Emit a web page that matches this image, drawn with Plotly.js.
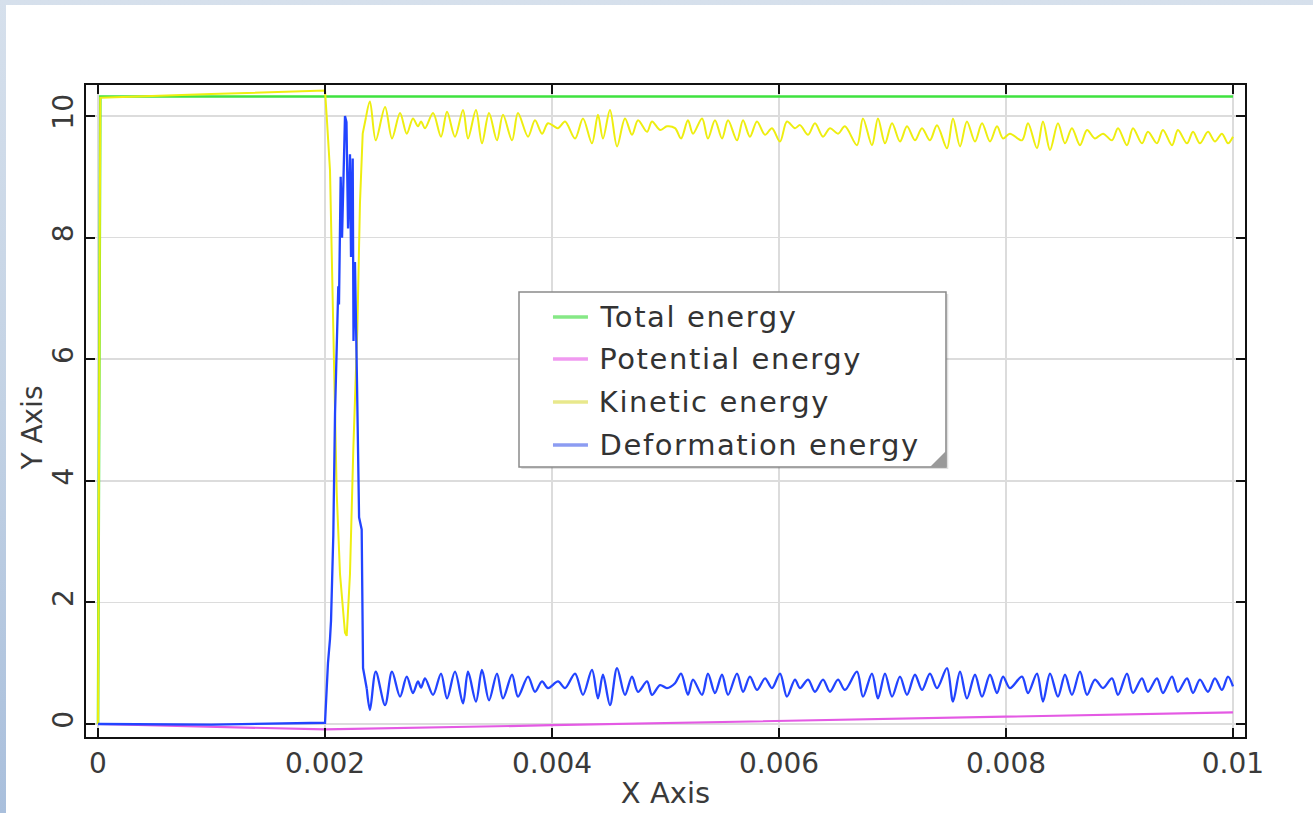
<!DOCTYPE html>
<html>
<head>
<meta charset="utf-8">
<script src="https://cdn.plot.ly/plotly-3.0.1.min.js"></script>
<style>
  html, body { margin: 0; padding: 0; width: 1313px; height: 813px; overflow: hidden;
    background: linear-gradient(to bottom, #d6e0ec 0%, #c3d2e4 50%, #a9bfdc 100%); }
  #chart { position: absolute; left: 6px; top: 5px; width: 1307px; height: 808px; background: #ffffff; }
</style>
</head>
<body>
<div id="chart"></div>
<script>
// ---- Data ----
const seriesNames = ["Total energy", "Potential energy", "Kinetic energy", "Deformation energy"];
const xAxisTitle = "X Axis";
const yAxisTitle = "Y Axis";

const xTickVals = [0, 0.002, 0.004, 0.006, 0.008, 0.01];
const xTickText = ["0", "0.002", "0.004", "0.006", "0.008", "0.01"];
const yTickVals = [0, 2, 4, 6, 8, 10];
const yTickText = ["0", "2", "4", "6", "8", "10"];

// Total energy
const totalX = [0, 0.00002, 0.005, 0.01];
const totalY = [0, 10.32, 10.32, 10.32];

// Potential energy
const potentialX = [0, 0.001, 0.002, 0.004, 0.006, 0.008, 0.01];
const potentialY = [0, -0.045, -0.09, -0.02, 0.05, 0.12, 0.19];

// Time samples of the oscillating phase (shared by kinetic and deformation)
const oscX = [0.002396, 0.002447, 0.002529, 0.00259, 0.002661, 0.00272, 0.002775, 0.002819, 0.002846, 0.002881,
  0.002952, 0.003022, 0.003075, 0.003145, 0.003216, 0.00326, 0.00333, 0.003383, 0.003445, 0.003515,
  0.003568, 0.003648, 0.0037, 0.003789, 0.00385, 0.003912, 0.003965, 0.004053, 0.004115, 0.004203,
  0.004273, 0.004352, 0.004405, 0.004449, 0.004511, 0.004573, 0.004643, 0.004705, 0.004758, 0.004837,
  0.004881, 0.004952, 0.005013, 0.005084, 0.005137, 0.005198, 0.005242, 0.005322, 0.005374, 0.005436,
  0.005498, 0.005551, 0.00563, 0.005683, 0.005744, 0.005806, 0.005877, 0.005938, 0.006009, 0.00607,
  0.006141, 0.006185, 0.006256, 0.006317, 0.006388, 0.006449, 0.00652, 0.006581, 0.006687, 0.00674,
  0.006819, 0.006872, 0.006934, 0.006996, 0.007066, 0.007128, 0.007198, 0.00726, 0.00733, 0.007392,
  0.00748, 0.007533, 0.007595, 0.007656, 0.007727, 0.007789, 0.007859, 0.007921, 0.007974, 0.008035,
  0.008141, 0.008194, 0.008273, 0.008326, 0.008388, 0.008458, 0.00852, 0.008581, 0.008652, 0.008714,
  0.008784, 0.008855, 0.008934, 0.008987, 0.009066, 0.009119, 0.009198, 0.009251, 0.00933, 0.009383,
  0.009463, 0.009515, 0.009595, 0.009648, 0.009709, 0.00978, 0.009841, 0.009903, 0.009956, 0.01];

// Kinetic energy
const kineticPulseX = [0, 0.00002, 0.001, 0.002, 0.002018, 0.002044, 0.002073, 0.002103, 0.002132, 0.002176,
  0.002191, 0.00222, 0.002249, 0.002285, 0.002308, 0.002332, 0.002361];
const kineticPulseY = [0, 10.3, 10.36, 10.42, 9.9, 9.1, 6.5, 3.8, 2.47, 1.5,
  1.45, 2.47, 4.5, 6.5, 8.57, 9.71, 9.98];
const kineticOscY = [10.24, 9.6, 10.15, 9.63, 10.05, 9.71, 9.96, 9.83, 9.91, 9.8,
  10.05, 9.66, 10.07, 9.66, 10.1, 9.63, 10.1, 9.55, 10.05, 9.6,
  10.02, 9.6, 10.05, 9.66, 9.93, 9.71, 9.88, 9.8, 9.91, 9.63,
  9.96, 9.55, 10.02, 9.63, 10.1, 9.5, 9.96, 9.69, 9.93, 9.74,
  9.91, 9.77, 9.83, 9.8, 9.63, 9.93, 9.71, 9.96, 9.63, 9.93,
  9.63, 9.93, 9.6, 9.93, 9.66, 9.91, 9.69, 9.8, 9.58, 9.91,
  9.8, 9.85, 9.69, 9.88, 9.66, 9.8, 9.71, 9.83, 9.52, 9.96,
  9.52, 9.96, 9.55, 9.88, 9.58, 9.83, 9.6, 9.8, 9.6, 9.85,
  9.47, 9.96, 9.5, 9.91, 9.58, 9.88, 9.58, 9.83, 9.63, 9.71,
  9.6, 9.88, 9.47, 9.91, 9.44, 9.88, 9.55, 9.8, 9.52, 9.77,
  9.63, 9.71, 9.6, 9.8, 9.52, 9.8, 9.55, 9.74, 9.55, 9.77,
  9.52, 9.77, 9.55, 9.74, 9.55, 9.74, 9.58, 9.71, 9.55, 9.66];

// Deformation energy
const deformPulseX = [0, 0.001, 0.002, 0.002026, 0.002044, 0.002053, 0.002073, 0.002088, 0.002117, 0.002123,
  0.002138, 0.00215, 0.002176, 0.002189, 0.002203, 0.00222, 0.002229, 0.002244, 0.002251, 0.002264,
  0.002282, 0.0023, 0.002323, 0.002335, 0.002368];
const deformPulseY = [0, -0.01, 0.02, 1.0, 1.4, 1.7, 3.1, 5.1, 7.2, 6.9,
  9.0, 8.0, 10.0, 9.9, 8.15, 9.37, 7.68, 9.3, 6.3, 7.6,
  5.6, 3.4, 3.2, 0.92, 0.58];
const deformOscY = [0.23, 0.86, 0.31, 0.86, 0.45, 0.78, 0.51, 0.70, 0.60, 0.75,
  0.48, 0.83, 0.42, 0.86, 0.34, 0.86, 0.37, 0.89, 0.39, 0.83,
  0.42, 0.81, 0.45, 0.78, 0.53, 0.70, 0.59, 0.70, 0.59, 0.83,
  0.48, 0.89, 0.42, 0.81, 0.31, 0.92, 0.48, 0.78, 0.53, 0.70,
  0.48, 0.64, 0.59, 0.67, 0.83, 0.48, 0.73, 0.48, 0.83, 0.51,
  0.81, 0.48, 0.83, 0.53, 0.78, 0.56, 0.75, 0.59, 0.83, 0.45,
  0.73, 0.59, 0.73, 0.53, 0.73, 0.53, 0.73, 0.56, 0.86, 0.45,
  0.83, 0.42, 0.83, 0.45, 0.78, 0.48, 0.81, 0.56, 0.83, 0.59,
  0.92, 0.37, 0.86, 0.42, 0.81, 0.45, 0.81, 0.51, 0.78, 0.59,
  0.78, 0.51, 0.83, 0.37, 0.83, 0.45, 0.81, 0.48, 0.86, 0.48,
  0.73, 0.59, 0.75, 0.48, 0.83, 0.51, 0.75, 0.53, 0.75, 0.51,
  0.78, 0.53, 0.75, 0.51, 0.73, 0.53, 0.75, 0.56, 0.78, 0.62];

// ---- Styles ----
const lineColors = ["#3fe23f", "#e45ae4", "#eeee10", "#2244ff"];
const legendColors = ["#86e886", "#f09af0", "#e8e88c", "#8c9cf2"];
const lineWidths = [2.6, 2.2, 2.0, 2.3];
const legendLetterSpacing = 1.6;

function lineTrace(name, x, y, i, shape) {
  return {
    type: "scatter", mode: "lines", name: name, legendgroup: name,
    x: x, y: y, showlegend: false,
    line: { color: lineColors[i], width: lineWidths[i], shape: shape, smoothing: 0.9 },
    hoverinfo: "skip"
  };
}
const last = a => a[a.length - 1];

// Each oscillating series: the sharp pulse drawn as straight segments, the ringing afterwards smoothed.
const traces = [
  lineTrace(seriesNames[0], totalX, totalY, 0, "linear"),
  lineTrace(seriesNames[1], potentialX, potentialY, 1, "linear"),
  lineTrace(seriesNames[2], kineticPulseX, kineticPulseY, 2, "linear"),
  lineTrace(seriesNames[2], [last(kineticPulseX)].concat(oscX), [last(kineticPulseY)].concat(kineticOscY), 2, "spline"),
  lineTrace(seriesNames[3], deformPulseX, deformPulseY, 3, "linear"),
  lineTrace(seriesNames[3], [last(deformPulseX)].concat(oscX), [last(deformPulseY)].concat(deformOscY), 3, "spline")
];

// ---- Hand-built legend (box, samples, labels) in paper coordinates ----
const legBox = { x0: 0.3736, x1: 0.7420, y0: 0.4141, y1: 0.6825 };
const legRows = [0.6442, 0.5798, 0.5138, 0.4479];
const shapes = [
  { type: "rect", xref: "paper", yref: "paper", x0: legBox.x0 + 0.002, x1: legBox.x1 + 0.002,
    y0: legBox.y0 - 0.003, y1: legBox.y1 - 0.003, line: { width: 0 }, fillcolor: "rgba(0,0,0,0.12)", layer: "above" },
  { type: "rect", xref: "paper", yref: "paper", x0: legBox.x0, x1: legBox.x1, y0: legBox.y0, y1: legBox.y1,
    line: { color: "#8a8a8a", width: 1.5 }, fillcolor: "#ffffff", layer: "above" },
  { type: "path", xref: "paper", yref: "paper", layer: "above",
    path: "M 0.7282 0.4141 L 0.7420 0.4141 L 0.7420 0.4387 Z", fillcolor: "#9a9a9a", line: { width: 0 } }
];
const annotations = [];
seriesNames.forEach((name, i) => {
  shapes.push({ type: "line", xref: "paper", yref: "paper", x0: 0.4029, x1: 0.4331,
    y0: legRows[i], y1: legRows[i], line: { color: legendColors[i], width: 3.5 }, layer: "above" });
  annotations.push({ xref: "paper", yref: "paper", x: 0.4411, y: legRows[i], xanchor: "left", yanchor: "middle",
    xshift: name.length * legendLetterSpacing / 2,
    text: name, showarrow: false,
    font: { family: "DejaVu Sans", size: 29, color: "#333333" } });
});
// Y axis title placed as rotated text left of the tick labels
annotations.push({ xref: "paper", yref: "paper", x: 0, y: 0.473, xshift: -53, xanchor: "center", yanchor: "middle",
  text: yAxisTitle, textangle: -90, showarrow: false,
  font: { family: "DejaVu Sans", size: 28, color: "#3a3a3a" } });

const tickFont = { family: "DejaVu Sans", size: 28, color: "#3a3a3a" };

const layout = {
  width: 1307, height: 808,
  paper_bgcolor: "#ffffff", plot_bgcolor: "#ffffff",
  margin: { l: 80, r: 68, t: 80, b: 76 },
  showlegend: false,
  xaxis: {
    range: [-0.000106, 0.010106],
    tickvals: xTickVals, ticktext: xTickText,
    ticks: "inside", ticklen: 9, tickwidth: 2, tickcolor: "#111111",
    showline: true, linecolor: "#111111", linewidth: 2, mirror: "ticks",
    showgrid: true, gridcolor: "#dcdcdc", gridwidth: 1.5, zeroline: false,
    tickfont: tickFont,
    title: { text: xAxisTitle, font: { family: "DejaVu Sans", size: 29, color: "#3a3a3a" }, standoff: 4 }
  },
  yaxis: {
    range: [-0.214, 10.51],
    tickvals: yTickVals, ticktext: yTickText, tickangle: -90,
    ticks: "inside", ticklen: 9, tickwidth: 2, tickcolor: "#111111",
    showline: true, linecolor: "#111111", linewidth: 2, mirror: "ticks",
    showgrid: true, gridcolor: "#dcdcdc", gridwidth: 1.5, zeroline: false,
    tickfont: tickFont
  },
  shapes: shapes,
  annotations: annotations
};

Plotly.newPlot("chart", traces, layout, { staticPlot: true, displayModeBar: false }).then(() => {
  // widen the legend labels' letter spacing like the reference
  document.querySelectorAll("#chart .annotation").forEach((g, idx) => {
    if (idx < seriesNames.length) {
      g.querySelectorAll("text").forEach(t => t.setAttribute("letter-spacing", legendLetterSpacing + "px"));
    }
  });
});
</script>
</body>
</html>
